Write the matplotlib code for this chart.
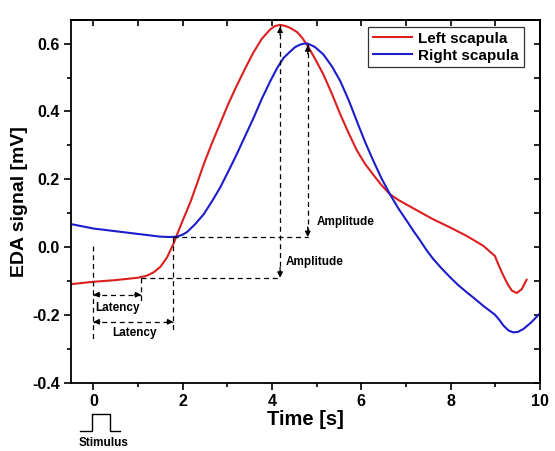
import matplotlib
matplotlib.use("Agg")
import matplotlib.pyplot as plt
from matplotlib.ticker import MultipleLocator

plt.rcParams['font.family'] = ['Liberation Sans', 'DejaVu Sans']
plt.rcParams['font.weight'] = 'bold'

left_x = [-0.5, 0, 0.5, 1.0, 1.2, 1.35, 1.5, 1.65, 1.8, 1.87, 2.02, 2.17, 2.32, 2.47, 2.65, 2.84,
          3.02, 3.21, 3.40, 3.58, 3.77, 3.96, 4.07, 4.18, 4.30, 4.41, 4.56, 4.67, 4.78, 4.96,
          5.15, 5.34, 5.53, 5.72, 5.90, 6.08, 6.27, 6.45, 6.64, 6.83, 7.02, 7.32, 7.61, 7.99,
          8.36, 8.73, 8.99, 9.08, 9.18, 9.28, 9.37, 9.48, 9.59, 9.70]
left_y = [-0.109, -0.102, -0.097, -0.090, -0.084, -0.074, -0.058, -0.030, 0.012, 0.036, 0.085,
          0.132, 0.187, 0.244, 0.305, 0.365, 0.422, 0.476, 0.527, 0.573, 0.614, 0.642, 0.652,
          0.655, 0.652, 0.646, 0.634, 0.618, 0.597, 0.556, 0.509, 0.452, 0.391, 0.335, 0.285,
          0.246, 0.213, 0.183, 0.156, 0.139, 0.125, 0.103, 0.082, 0.058, 0.033, 0.004, -0.026,
          -0.055, -0.084, -0.110, -0.128, -0.135, -0.124, -0.096]

right_x = [-0.5, 0, 0.75, 1.5, 1.72, 1.87, 2.0, 2.10, 2.28, 2.47, 2.65, 2.84, 3.02, 3.21, 3.40,
           3.59, 3.77, 3.96, 4.11, 4.26, 4.41, 4.52, 4.63, 4.72, 4.80, 4.96, 5.15, 5.34, 5.53,
           5.72, 5.90, 6.08, 6.27, 6.45, 6.64, 6.83, 7.02, 7.17, 7.32, 7.46, 7.61, 7.80, 7.99,
           8.17, 8.36, 8.55, 8.73, 8.99, 9.10, 9.18, 9.30, 9.40, 9.50, 9.63, 9.80, 10.0]
right_y = [0.068, 0.055, 0.043, 0.031, 0.030, 0.031, 0.037, 0.045, 0.068, 0.097, 0.134, 0.176,
           0.223, 0.274, 0.328, 0.382, 0.437, 0.489, 0.527, 0.558, 0.577, 0.590, 0.597, 0.600,
           0.600, 0.590, 0.568, 0.533, 0.489, 0.432, 0.371, 0.311, 0.254, 0.203, 0.156, 0.114,
           0.077, 0.047, 0.019, -0.009, -0.035, -0.063, -0.089, -0.112, -0.133, -0.153, -0.173,
           -0.199, -0.216, -0.231, -0.246, -0.251, -0.250, -0.241, -0.222, -0.195]

series_labels = ['Left scapula', 'Right scapula']
series_colors = ['#dc1e1e', '#1c1ccc']

# annotation values
peak_left = (4.18, 0.655)
peak_right = (4.80, 0.600)
base_left = -0.09
base_right = 0.03
onset_left = 1.07
onset_right = 1.79

fig = plt.figure(figsize=(5.55, 4.51), dpi=100)
ax = fig.add_axes([0.128, 0.151, 0.845, 0.805])

ax.plot(left_x, left_y, color=series_colors[0], lw=1.5, label=series_labels[0])
ax.plot(right_x, right_y, color=series_colors[1], lw=1.5, label=series_labels[1])

ax.set_xlim(-0.5, 10)
ax.set_ylim(-0.4, 0.67)

dash = dict(color='black', lw=0.9, ls=(0, (4, 3)))

# amplitude vertical lines
ax.plot([peak_left[0], peak_left[0]], [peak_left[1], base_left], **dash)
ax.plot([peak_right[0], peak_right[0]], [peak_right[1], base_right], **dash)
# horizontal baselines
ax.plot([onset_left, peak_left[0]], [base_left, base_left], **dash)
ax.plot([onset_right, peak_right[0]], [base_right, base_right], **dash)
# vertical onset lines
ax.plot([0, 0], [0.003, -0.27], **dash)
ax.plot([onset_left, onset_left], [base_left, -0.16], **dash)
ax.plot([onset_right, onset_right], [base_right, -0.25], **dash)
# latency lines
ax.plot([0, onset_left], [-0.14, -0.14], **dash)
ax.plot([0, onset_right], [-0.22, -0.22], **dash)

def head(x0, y0, x1, y1):
    ax.annotate('', xy=(x1, y1), xytext=(x0, y0),
                arrowprops=dict(arrowstyle='-|>', color='black', lw=0.9,
                                mutation_scale=8, shrinkA=0, shrinkB=0))

# amplitude arrow heads
head(peak_left[0], peak_left[1] - 0.03, peak_left[0], peak_left[1] - 0.005)
head(peak_left[0], base_left + 0.03, peak_left[0], base_left)
head(peak_right[0], peak_right[1] - 0.03, peak_right[0], peak_right[1] - 0.005)
head(peak_right[0], base_right + 0.03, peak_right[0], base_right)
# latency arrow heads
for y, xe in [(-0.14, onset_left), (-0.22, onset_right)]:
    head(0.15, y, 0.0, y)
    head(xe - 0.15, y, xe, y)

tf = dict(fontsize=8.5, fontweight='bold')
ax.text(5.0, 0.073, 'Amplitude', ha='left', va='center', **tf)
ax.text(4.3, -0.045, 'Amplitude', ha='left', va='center', **tf)
ax.text(0.54, -0.178, 'Latency', ha='center', va='center', **tf)
ax.text(0.92, -0.253, 'Latency', ha='center', va='center', **tf)

# stimulus symbol
ax.plot([-0.29, -0.02, -0.02, 0.38, 0.38, 0.6], [-0.541, -0.541, -0.491, -0.491, -0.541, -0.541],
        color='black', lw=1.0, clip_on=False)
ax.text(0.22, -0.576, 'Stimulus', ha='center', va='center', fontsize=8.5, fontweight='bold',
        clip_on=False)

ax.xaxis.set_major_locator(MultipleLocator(2))
ax.xaxis.set_minor_locator(MultipleLocator(1))
ax.yaxis.set_major_locator(MultipleLocator(0.2))
ax.yaxis.set_minor_locator(MultipleLocator(0.1))
ax.tick_params(axis='both', which='major', direction='out', length=5, width=1.2,
               labelsize=11.5, pad=3)
ax.tick_params(axis='both', which='minor', direction='out', length=3, width=1.2)
ax.yaxis.set_major_formatter(matplotlib.ticker.FuncFormatter(lambda v, p: f'{v:.1f}'))
for lab in ax.get_xticklabels() + ax.get_yticklabels():
    lab.set_fontweight('bold')

ax2 = ax.secondary_xaxis('top')
ax2.xaxis.set_major_locator(MultipleLocator(2))
ax2.xaxis.set_minor_locator(MultipleLocator(1))
ax2.tick_params(which='both', direction='in', length=4, width=1.2, labeltop=False)
ax3 = ax.secondary_yaxis('right')
ax3.yaxis.set_major_locator(MultipleLocator(0.2))
ax3.yaxis.set_minor_locator(MultipleLocator(0.1))
ax3.tick_params(which='both', direction='in', length=4, width=1.2, labelright=False)

for s in ax.spines.values():
    s.set_linewidth(1.3)
ax2.spines['top'].set_linewidth(1.3)
ax3.spines['right'].set_linewidth(1.3)

ax.set_xlabel('Time [s]', fontsize=14.5, fontweight='bold', labelpad=1)
ax.set_ylabel('EDA signal [mV]', fontsize=14, fontweight='bold', labelpad=3)

leg = ax.legend(loc='upper right', bbox_to_anchor=(0.965, 0.98), fontsize=11, frameon=True,
                fancybox=False, edgecolor='black', handlelength=2.6, handletextpad=0.4,
                borderpad=0.3, labelspacing=0.2, borderaxespad=0)
leg.get_frame().set_linewidth(0.9)
for t in leg.get_texts():
    t.set_fontweight('bold')

fig.savefig('out.png', dpi=100)
